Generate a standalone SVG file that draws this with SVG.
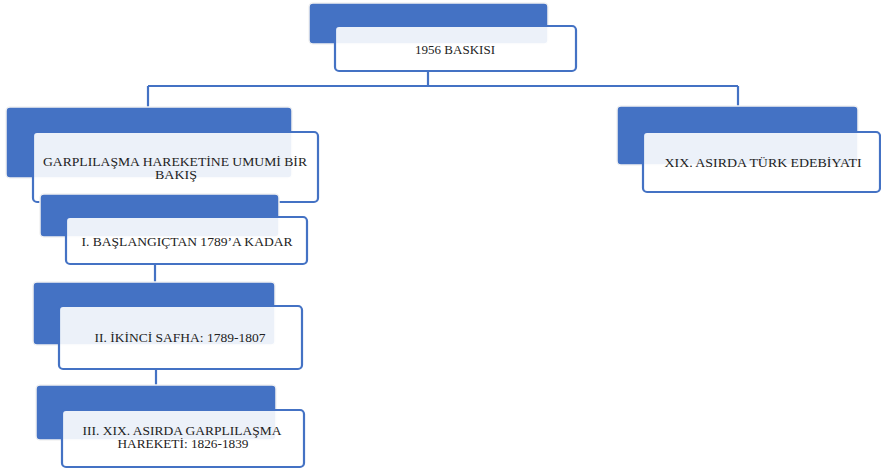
<svg xmlns="http://www.w3.org/2000/svg" width="881" height="470" viewBox="0 0 881 470">
<style>
.bg{fill:#4472C4;stroke:#f2f2f2;stroke-width:1.5}
.fg{fill:#ffffff;fill-opacity:0.9;stroke:#4472C4;stroke-width:2.2}
.t{font-family:"Liberation Serif","DejaVu Serif","Times New Roman",serif;font-size:12px;fill:#222222;text-anchor:middle}
.c{fill:none;stroke:#4472C4;stroke-width:2.2}
</style>
<rect width="881" height="470" fill="#ffffff"/>
<g id="connectors">
<path class="c" d="M428 71 V86 M148 86 H738 M148 86 V108 M738 86 V107"/>
<path class="c" d="M155 264 V283"/>
<path class="c" d="M156 369 V386"/>
</g>
<g id="n0">
<rect class="bg" x="309" y="3" width="239" height="41" rx="4"/>
<rect class="fg" x="335" y="26" width="241" height="45" rx="4"/>
<text class="t" x="455" y="54" textLength="80" lengthAdjust="spacingAndGlyphs">1956 BASKISI</text>
</g>
<g id="n1">
<rect class="bg" x="6" y="107" width="286" height="71" rx="4"/>
<rect class="fg" x="33" y="132" width="285" height="70" rx="4"/>
<text class="t" x="175" y="166" textLength="264" lengthAdjust="spacingAndGlyphs">GARPLILAŞMA  HAREKETİNE  UMUMİ  BİR</text>
<text class="t" x="176" y="179" textLength="42" lengthAdjust="spacingAndGlyphs">BAKIŞ</text>
</g>
<g id="n2">
<rect class="bg" x="40" y="194" width="239" height="43" rx="4"/>
<rect class="fg" x="66" y="217" width="241" height="47" rx="4"/>
<text class="t" x="187" y="246" textLength="211" lengthAdjust="spacingAndGlyphs">I. BAŞLANGIÇTAN  1789’A KADAR</text>
</g>
<g id="n3">
<rect class="bg" x="33" y="282" width="242" height="63" rx="4"/>
<rect class="fg" x="59" y="306" width="243" height="63" rx="4"/>
<text class="t" x="180" y="342" textLength="171" lengthAdjust="spacingAndGlyphs">II. İKİNCİ  SAFHA:  1789-1807</text>
</g>
<g id="n4">
<rect class="bg" x="36" y="385" width="240" height="55" rx="4"/>
<rect class="fg" x="62" y="410" width="242" height="57" rx="4"/>
<text class="t" x="182" y="435" textLength="199" lengthAdjust="spacingAndGlyphs">III. XIX. ASIRDA  GARPLILAŞMA</text>
<text class="t" x="183" y="448" textLength="131" lengthAdjust="spacingAndGlyphs">HAREKETİ:  1826-1839</text>
</g>
<g id="n5">
<rect class="bg" x="617" y="106" width="241" height="59" rx="4"/>
<rect class="fg" x="643" y="132" width="237" height="60" rx="4"/>
<text class="t" x="763" y="167" textLength="197" lengthAdjust="spacingAndGlyphs">XIX.  ASIRDA  TÜRK EDEBİYATI</text>
</g>
</svg>
